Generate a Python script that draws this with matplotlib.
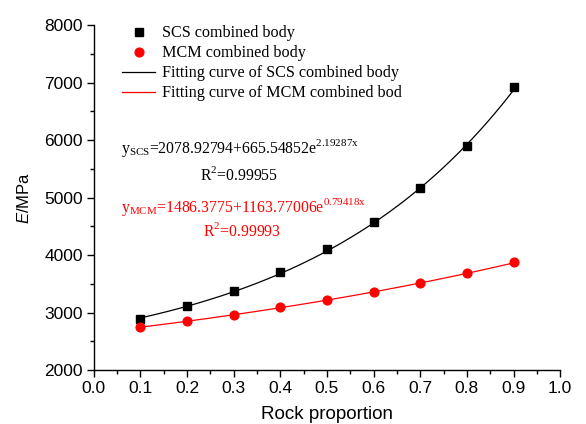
import numpy as np
import matplotlib
matplotlib.use("Agg")
import matplotlib.pyplot as plt
from matplotlib.ticker import MultipleLocator
from matplotlib.lines import Line2D

plt.rcParams["font.family"] = ["Liberation Sans", "DejaVu Sans"]
plt.rcParams["mathtext.fontset"] = "custom"
plt.rcParams["mathtext.rm"] = "Liberation Serif"
plt.rcParams["mathtext.it"] = "Liberation Sans:italic"

# Measured elastic modulus versus rock proportion
rock_proportion = [0.1, 0.2, 0.3, 0.4, 0.5, 0.6, 0.7, 0.8, 0.9]
scs_modulus = [2887, 3123, 3380, 3704, 4099, 4578, 5160, 5900, 6920]
mcm_modulus = [2748, 2852, 2962, 3090, 3217, 3362, 3518, 3681, 3873]

# Exponential fit coefficients: y = a + b * exp(c * x)
scs_fit = (2078.92794, 665.54852, 2.19287)
mcm_fit = (1486.3775, 1163.77006, 0.79418)
scs_r2 = "0.99955"
mcm_r2 = "0.99993"

x_ticks = [0.0, 0.1, 0.2, 0.3, 0.4, 0.5, 0.6, 0.7, 0.8, 0.9, 1.0]
y_ticks = [2000, 3000, 4000, 5000, 6000, 7000, 8000]

fig = plt.figure(figsize=(5.86, 4.24), dpi=100)
ax = fig.add_axes([0.160, 0.127, 0.796, 0.814])

xs = np.linspace(min(rock_proportion), max(rock_proportion), 200)
a, b, c = scs_fit
ax.plot(xs, a + b * np.exp(c * xs), color="black", lw=0.9, zorder=2)
a, b, c = mcm_fit
ax.plot(xs, a + b * np.exp(c * xs), color="red", lw=0.9, zorder=2)

ax.plot(rock_proportion, scs_modulus, ls="none", marker="s", ms=5.8,
        color="black", zorder=3)
ax.plot(rock_proportion, mcm_modulus, ls="none", marker="o", ms=6.3,
        color="red", zorder=3)

ax.set_xlim(0.0, 1.0)
ax.set_ylim(2000, 8000)
ax.set_xticks(x_ticks)
ax.set_xticklabels([f"{v:.1f}" for v in x_ticks])
ax.set_yticks(y_ticks)
ax.xaxis.set_minor_locator(MultipleLocator(0.05))
ax.yaxis.set_minor_locator(MultipleLocator(500))
ax.tick_params(which="both", direction="out", width=1, labelsize=12.5)
ax.tick_params(which="major", length=5, pad=3)
ax.tick_params(which="minor", length=3)
for side in ("top", "right"):
    ax.spines[side].set_visible(False)
for side in ("left", "bottom"):
    ax.spines[side].set_linewidth(1)

ax.set_xlabel("Rock proportion", fontsize=13.5, labelpad=7)
ax.set_ylabel(r"$\mathit{E}$/MPa", fontsize=12, labelpad=9)

handles = [
    Line2D([], [], ls="none", marker="s", ms=5.8, color="black"),
    Line2D([], [], ls="none", marker="o", ms=6.3, color="red"),
    Line2D([], [], color="black", lw=0.9),
    Line2D([], [], color="red", lw=0.9),
]
labels = ["SCS combined body", "MCM combined body",
          "Fitting curve of SCS combined body",
          "Fitting curve of MCM combined bod"]
ax.legend(handles, labels, loc="upper left", bbox_to_anchor=(0.047, 1.018),
          frameon=False, prop={"family": "Liberation Serif", "size": 11.6},
          handlelength=2.05, handletextpad=0.42, labelspacing=0.25,
          borderaxespad=0)

eq_font = dict(transform=ax.transAxes, fontsize=11.3, family="Liberation Serif",
               va="baseline")
ax.text(0.058, 0.630,
        r"$\mathrm{y_{SCS}}$=2078.92794+665.54852e$^{\mathrm{2.19287x}}$",
        color="black", **eq_font)
ax.text(0.311, 0.552, r"R$^{\mathrm{2}}$=" + scs_r2,
        color="black", ha="center", **eq_font)
ax.text(0.058, 0.459,
        r"$\mathrm{y_{MCM}}$=1486.3775+1163.77006e$^{\mathrm{0.79418x}}$",
        color="red", **eq_font)
ax.text(0.318, 0.388, r"R$^{\mathrm{2}}$=" + mcm_r2,
        color="red", ha="center", **eq_font)

fig.savefig("out.png", dpi=100)
